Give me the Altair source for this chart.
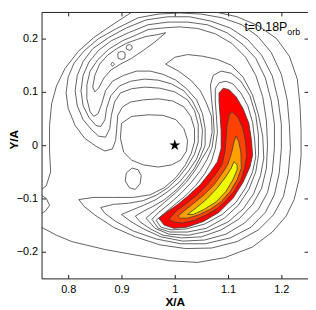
import altair as alt
import pandas as pd

X_TICKS = [0.8, 0.9, 1.0, 1.1, 1.2]
Y_TICKS = [-0.2, -0.1, 0.0, 0.1, 0.2]
X_DOMAIN = [0.75, 1.25]
Y_DOMAIN = [-0.25, 0.25]
LABEL_MAIN = "t=0.18P"
LABEL_SUB = "orb"
STAR_X = [1.0]
STAR_Y = [0.0]

# ---- contour lines (axis units) ----
OUTER_A_X = [0.750, 0.759, 0.767, 0.765, 0.765, 0.769, 0.778, 0.794, 0.819, 0.848, 0.880, 0.906, 0.920]
OUTER_A_Y = [-0.083, -0.076, -0.050, -0.009, 0.037, 0.078, 0.111, 0.144, 0.176, 0.202, 0.224, 0.241, 0.250]
OUTER_B_X = [1.076, 1.117, 1.157, 1.191, 1.215, 1.230, 1.235, 1.237, 1.237, 1.233, 1.224, 1.209, 1.183, 1.146, 1.094, 1.043, 0.991, 0.931, 0.870, 0.807, 0.778, 0.750]
OUTER_B_Y = [0.250, 0.241, 0.224, 0.200, 0.167, 0.124, 0.074, 0.028, -0.019, -0.065, -0.102, -0.133, -0.163, -0.191, -0.211, -0.220, -0.217, -0.207, -0.196, -0.181, -0.169, -0.154]
OUTER_C_X = [0.750, 0.759, 0.765, 0.757, 0.750]
OUTER_C_Y = [-0.094, -0.100, -0.113, -0.124, -0.128]

K1_X = [0.965, 0.980, 0.998, 1.019, 1.039, 1.056, 1.069, 1.076, 1.080, 1.078, 1.076, 1.076, 1.083, 1.096, 1.109, 1.124, 1.137, 1.146, 1.150, 1.152, 1.146, 1.133, 1.115, 1.089, 1.056, 1.022, 0.994, 0.974, 0.965]
K1_Y = [-0.141, -0.128, -0.113, -0.096, -0.076, -0.054, -0.030, -0.006, 0.024, 0.057, 0.083, 0.106, 0.117, 0.120, 0.115, 0.098, 0.074, 0.043, 0.009, -0.022, -0.050, -0.080, -0.107, -0.130, -0.148, -0.157, -0.159, -0.154, -0.141]

K2_X = [0.957, 0.970, 0.991, 1.011, 1.031, 1.048, 1.061, 1.070, 1.074, 1.072, 1.069, 1.067, 1.072, 1.087, 1.106, 1.124, 1.141, 1.152, 1.157, 1.157, 1.152, 1.139, 1.119, 1.093, 1.059, 1.024, 0.991, 0.969, 0.957]
K2_Y = [-0.139, -0.126, -0.109, -0.091, -0.070, -0.048, -0.026, -0.004, 0.024, 0.057, 0.087, 0.113, 0.131, 0.139, 0.135, 0.120, 0.093, 0.056, 0.019, -0.019, -0.050, -0.083, -0.113, -0.137, -0.156, -0.163, -0.163, -0.156, -0.139]

K3_X = [0.946, 0.961, 0.981, 1.002, 1.022, 1.039, 1.052, 1.065, 1.070, 1.069, 1.059, 1.048, 1.030, 1.007, 0.983, 1.000, 1.024, 1.052, 1.080, 1.106, 1.128, 1.146, 1.157, 1.165, 1.167, 1.161, 1.148, 1.128, 1.100, 1.063, 1.026, 0.989, 0.963, 0.946]
K3_Y = [-0.137, -0.124, -0.107, -0.089, -0.069, -0.046, -0.024, -0.002, 0.024, 0.054, 0.080, 0.102, 0.122, 0.139, 0.152, 0.165, 0.170, 0.167, 0.161, 0.150, 0.128, 0.094, 0.057, 0.017, -0.024, -0.057, -0.091, -0.120, -0.144, -0.161, -0.169, -0.167, -0.156, -0.137]

K4_X = [0.926, 0.941, 0.959, 0.981, 1.004, 1.022, 1.037, 1.048, 1.057, 1.057, 1.052, 1.041, 1.022, 1.002, 0.978, 0.954, 0.928, 0.904, 0.883, 0.870, 0.863, 0.856, 0.848, 0.841, 0.835, 0.835, 0.841, 0.856, 0.876, 0.902, 0.928, 0.950, 0.978, 1.009, 1.043, 1.076, 1.107, 1.133, 1.152, 1.165, 1.172, 1.174, 1.172, 1.163, 1.146, 1.120, 1.087, 1.050, 1.013, 0.978, 0.954, 0.935, 0.926]
K4_Y = [-0.133, -0.124, -0.115, -0.102, -0.083, -0.063, -0.043, -0.022, 0.000, 0.031, 0.059, 0.085, 0.106, 0.122, 0.133, 0.139, 0.139, 0.131, 0.120, 0.102, 0.078, 0.059, 0.054, 0.063, 0.087, 0.113, 0.139, 0.161, 0.180, 0.196, 0.207, 0.217, 0.220, 0.222, 0.219, 0.209, 0.191, 0.165, 0.131, 0.091, 0.046, 0.000, -0.043, -0.081, -0.111, -0.139, -0.159, -0.172, -0.174, -0.169, -0.157, -0.144, -0.133]

K5_X = [0.900, 0.919, 0.941, 0.965, 0.987, 1.009, 1.026, 1.041, 1.050, 1.052, 1.046, 1.033, 1.017, 0.994, 0.969, 0.943, 0.917, 0.896, 0.880, 0.872, 0.869, 0.861, 0.852, 0.839, 0.828, 0.824, 0.828, 0.839, 0.857, 0.881, 0.913, 0.950, 0.987, 1.024, 1.061, 1.098, 1.128, 1.152, 1.170, 1.181, 1.187, 1.187, 1.183, 1.174, 1.157, 1.131, 1.096, 1.056, 1.015, 0.974, 0.941, 0.917, 0.900]
K5_Y = [-0.130, -0.122, -0.113, -0.102, -0.087, -0.069, -0.048, -0.026, -0.002, 0.028, 0.057, 0.083, 0.102, 0.115, 0.122, 0.124, 0.120, 0.111, 0.093, 0.069, 0.048, 0.035, 0.037, 0.052, 0.074, 0.102, 0.131, 0.156, 0.178, 0.196, 0.211, 0.226, 0.231, 0.231, 0.226, 0.211, 0.189, 0.163, 0.126, 0.083, 0.039, -0.006, -0.050, -0.089, -0.120, -0.146, -0.167, -0.178, -0.180, -0.172, -0.157, -0.143, -0.130]

K6_X = [0.861, 0.885, 0.913, 0.941, 0.965, 0.987, 1.007, 1.024, 1.037, 1.044, 1.044, 1.037, 1.024, 1.000, 0.972, 0.944, 0.919, 0.898, 0.887, 0.881, 0.878, 0.870, 0.857, 0.843, 0.828, 0.817, 0.813, 0.817, 0.828, 0.846, 0.876, 0.909, 0.946, 0.987, 1.028, 1.067, 1.104, 1.137, 1.163, 1.183, 1.194, 1.200, 1.200, 1.196, 1.187, 1.170, 1.143, 1.104, 1.057, 1.011, 0.965, 0.922, 0.889, 0.869, 0.861]
K6_Y = [-0.117, -0.111, -0.109, -0.104, -0.094, -0.080, -0.061, -0.039, -0.017, 0.006, 0.039, 0.065, 0.085, 0.100, 0.107, 0.109, 0.106, 0.098, 0.081, 0.056, 0.031, 0.015, 0.017, 0.030, 0.048, 0.074, 0.102, 0.131, 0.157, 0.181, 0.202, 0.220, 0.235, 0.241, 0.241, 0.233, 0.220, 0.198, 0.169, 0.130, 0.085, 0.039, -0.006, -0.052, -0.093, -0.126, -0.154, -0.174, -0.185, -0.185, -0.176, -0.161, -0.143, -0.128, -0.117]

K7_X = [0.820, 0.848, 0.885, 0.922, 0.954, 0.980, 1.002, 1.020, 1.031, 1.037, 1.037, 1.030, 1.017, 0.996, 0.969, 0.941, 0.917, 0.902, 0.893, 0.891, 0.889, 0.883, 0.869, 0.852, 0.831, 0.813, 0.800, 0.796, 0.800, 0.811, 0.831, 0.857, 0.891, 0.931, 0.969, 1.009, 1.050, 1.089, 1.126, 1.156, 1.181, 1.200, 1.211, 1.215, 1.217, 1.213, 1.204, 1.185, 1.157, 1.117, 1.069, 1.020, 0.972, 0.926, 0.885, 0.850, 0.830, 0.820]
K7_Y = [-0.102, -0.098, -0.098, -0.098, -0.093, -0.080, -0.061, -0.037, -0.015, 0.006, 0.031, 0.054, 0.072, 0.083, 0.087, 0.085, 0.081, 0.072, 0.056, 0.031, 0.009, -0.007, -0.011, -0.002, 0.013, 0.037, 0.069, 0.098, 0.128, 0.154, 0.178, 0.200, 0.219, 0.239, 0.246, 0.248, 0.246, 0.239, 0.226, 0.204, 0.174, 0.133, 0.085, 0.039, -0.006, -0.054, -0.096, -0.131, -0.159, -0.181, -0.193, -0.194, -0.187, -0.172, -0.154, -0.131, -0.115, -0.102]

RIDGE_X = [0.983, 0.965, 0.946, 0.928, 0.909, 0.891, 0.874, 0.859, 0.850, 0.846, 0.850, 0.857, 0.867, 0.880, 0.898, 0.919, 0.941, 0.963, 0.983]
RIDGE_Y = [0.211, 0.207, 0.204, 0.198, 0.191, 0.181, 0.169, 0.152, 0.131, 0.109, 0.100, 0.107, 0.126, 0.141, 0.152, 0.163, 0.178, 0.194, 0.211]

ISLE1_X = [0.883, 0.887, 0.883, 0.880, 0.883]
ISLE1_Y = [0.156, 0.152, 0.148, 0.152, 0.156]
ISLE2_X = [0.900, 0.906, 0.907, 0.906, 0.900, 0.894, 0.893, 0.894, 0.900]
ISLE2_Y = [0.176, 0.174, 0.169, 0.163, 0.161, 0.163, 0.169, 0.174, 0.176]
ISLE3_X = [0.915, 0.919, 0.920, 0.919, 0.915, 0.910, 0.909, 0.910, 0.915]
ISLE3_Y = [0.189, 0.187, 0.183, 0.180, 0.178, 0.180, 0.183, 0.187, 0.189]

HOLE_X = [0.900, 0.919, 0.950, 0.978, 1.002, 1.017, 1.024, 1.022, 1.011, 0.994, 0.969, 0.941, 0.919, 0.904, 0.898, 0.900]
HOLE_Y = [0.041, 0.054, 0.057, 0.056, 0.048, 0.031, 0.009, -0.011, -0.028, -0.037, -0.041, -0.037, -0.028, -0.013, 0.013, 0.041]

SMALL_X = [0.920, 0.931, 0.937, 0.935, 0.926, 0.915, 0.907, 0.909, 0.920]
SMALL_Y = [-0.043, -0.046, -0.057, -0.072, -0.083, -0.080, -0.067, -0.052, -0.043]

# ---- filled levels ----
RED_X = [0.970, 0.987, 1.006, 1.024, 1.048, 1.067, 1.080, 1.087, 1.087, 1.085, 1.083, 1.083, 1.091, 1.102, 1.115, 1.128, 1.139, 1.144, 1.146, 1.141, 1.128, 1.109, 1.083, 1.054, 1.022, 0.998, 0.980, 0.970]
RED_Y = [-0.137, -0.124, -0.111, -0.096, -0.074, -0.050, -0.031, -0.006, 0.028, 0.056, 0.083, 0.098, 0.107, 0.104, 0.091, 0.069, 0.041, 0.009, -0.019, -0.041, -0.070, -0.100, -0.126, -0.143, -0.154, -0.156, -0.150, -0.137]
OR_X = [1.107, 1.119, 1.128, 1.133, 1.135, 1.131, 1.124, 1.111, 1.094, 1.078, 1.059, 1.037, 1.015, 0.998, 0.989, 1.002, 1.020, 1.041, 1.061, 1.080, 1.089, 1.094, 1.096, 1.098, 1.102, 1.107]
OR_Y = [0.063, 0.052, 0.031, 0.006, -0.019, -0.043, -0.065, -0.087, -0.106, -0.120, -0.131, -0.141, -0.146, -0.144, -0.139, -0.124, -0.111, -0.094, -0.074, -0.050, -0.035, -0.013, 0.009, 0.037, 0.056, 0.063]
OG_X = [1.115, 1.120, 1.124, 1.125, 1.117, 1.104, 1.087, 1.067, 1.044, 1.024, 1.011, 1.006, 1.017, 1.033, 1.054, 1.074, 1.091, 1.100, 1.107, 1.111, 1.115]
OG_Y = [0.017, 0.007, -0.013, -0.043, -0.065, -0.087, -0.106, -0.120, -0.131, -0.137, -0.137, -0.133, -0.124, -0.111, -0.094, -0.074, -0.050, -0.035, -0.013, 0.006, 0.017]
YL_X = [1.024, 1.041, 1.061, 1.080, 1.096, 1.106, 1.111, 1.117, 1.117, 1.109, 1.096, 1.078, 1.056, 1.035, 1.024]
YL_Y = [-0.130, -0.117, -0.100, -0.080, -0.059, -0.043, -0.031, -0.037, -0.046, -0.065, -0.087, -0.106, -0.120, -0.130, -0.130]

CONTOURS = [
    ("outer_a", OUTER_A_X, OUTER_A_Y), ("outer_b", OUTER_B_X, OUTER_B_Y),
    ("outer_c", OUTER_C_X, OUTER_C_Y),
    ("k1", K1_X, K1_Y), ("k2", K2_X, K2_Y), ("k3", K3_X, K3_Y), ("k4", K4_X, K4_Y),
    ("k5", K5_X, K5_Y), ("k6", K6_X, K6_Y), ("k7", K7_X, K7_Y),
    ("ridge", RIDGE_X, RIDGE_Y), ("isle1", ISLE1_X, ISLE1_Y),
    ("isle2", ISLE2_X, ISLE2_Y), ("isle3", ISLE3_X, ISLE3_Y),
    ("hole", HOLE_X, HOLE_Y), ("small", SMALL_X, SMALL_Y),
]


def frame(name, xs, ys):
    return pd.DataFrame({"id": name, "i": list(range(len(xs))), "x": xs, "y": ys})


lines_df = pd.concat([frame(n, xs, ys) for n, xs, ys in CONTOURS], ignore_index=True)

FONT = "Liberation Sans"
LINE = "#3a3a3a"
W = H = 270

xscale = alt.Scale(domain=X_DOMAIN, nice=False, zero=False)
yscale = alt.Scale(domain=Y_DOMAIN, nice=False, zero=False)

main_x_axis = alt.Axis(values=X_TICKS, format="~g", title="X/A", ticks=False, tickSize=0,
                       domain=False, grid=False, labelFont=FONT, labelFontSize=11,
                       labelColor="black", labelPadding=5, titleFont=FONT, titleFontSize=12,
                       titleFontWeight="bold", titleColor="black", titlePadding=2)
main_y_axis = alt.Axis(values=Y_TICKS, format="~g", title="Y/A", ticks=False, tickSize=0,
                       domain=False, grid=False, labelFont=FONT, labelFontSize=11,
                       labelColor="black", labelPadding=4, titleFont=FONT, titleFontSize=12,
                       titleFontWeight="bold", titleColor="black",
                       titleAngle=270, titleAlign="center", titleBaseline="bottom",
                       titleX=-21, titleY=129)


def tick_axis(orient, values):
    return alt.Axis(orient=orient, offset=-W, values=values, labels=False, domain=False,
                    grid=False, ticks=True, tickSize=4, tickColor="#222222", tickWidth=1,
                    title="")


def fill_layer(xs, ys, color, xaxis, yaxis):
    enc_x = alt.X("x:Q", scale=xscale, axis=xaxis) if xaxis is not None else alt.X("x:Q", scale=xscale, axis=None)
    enc_y = alt.Y("y:Q", scale=yscale, axis=yaxis) if yaxis is not None else alt.Y("y:Q", scale=yscale, axis=None)
    return alt.Chart(frame("f", xs, ys)).mark_line(
        fill=color, stroke=LINE, strokeWidth=0.8, clip=True
    ).encode(x=enc_x, y=enc_y, order="i:Q")


red = fill_layer(RED_X, RED_Y, "#ff0000", tick_axis("top", X_TICKS), tick_axis("right", Y_TICKS))
orange_red = fill_layer(OR_X, OR_Y, "#ff4200", tick_axis("bottom", X_TICKS), tick_axis("left", Y_TICKS))
orange = fill_layer(OG_X, OG_Y, "#ffa000", None, None)
yellow = fill_layer(YL_X, YL_Y, "#f0ff00", None, None)

lines = alt.Chart(lines_df).mark_line(stroke=LINE, strokeWidth=0.8, clip=True).encode(
    x=alt.X("x:Q", scale=xscale, axis=main_x_axis),
    y=alt.Y("y:Q", scale=yscale, axis=main_y_axis),
    detail="id:N",
    order="i:Q",
)

STAR_PATH = ("M0,-1L0.2245,-0.309L0.9511,-0.309L0.3633,0.118L0.5878,0.809L0,0.382"
             "L-0.5878,0.809L-0.3633,0.118L-0.9511,-0.309L-0.2245,-0.309Z")
star = alt.Chart(pd.DataFrame({"x": STAR_X, "y": STAR_Y})).mark_point(
    shape=STAR_PATH, filled=True, color="black", size=140, opacity=1
).encode(x=alt.X("x:Q", scale=xscale, axis=None), y=alt.Y("y:Q", scale=yscale, axis=None))

text_main = alt.Chart(pd.DataFrame({"t": [LABEL_MAIN]})).mark_text(
    align="right", baseline="alphabetic", font=FONT, fontSize=12.5, color="black"
).encode(text="t:N", x=alt.value(249), y=alt.value(19))
text_sub = alt.Chart(pd.DataFrame({"t": [LABEL_SUB]})).mark_text(
    align="left", baseline="alphabetic", font=FONT, fontSize=9, color="black"
).encode(text="t:N", x=alt.value(249), y=alt.value(23))

chart = alt.layer(red, orange_red, orange, yellow, lines, star, text_main, text_sub).resolve_axis(
    x="independent", y="independent"
).properties(
    width=W, height=H,
    autosize=alt.AutoSizeParams(type="none"),
    padding={"left": 34, "top": 2, "right": 0, "bottom": 30},
).configure_view(stroke="#222222", strokeWidth=1)

chart.save("out.html", embed_options={"renderer": "svg", "actions": False})
